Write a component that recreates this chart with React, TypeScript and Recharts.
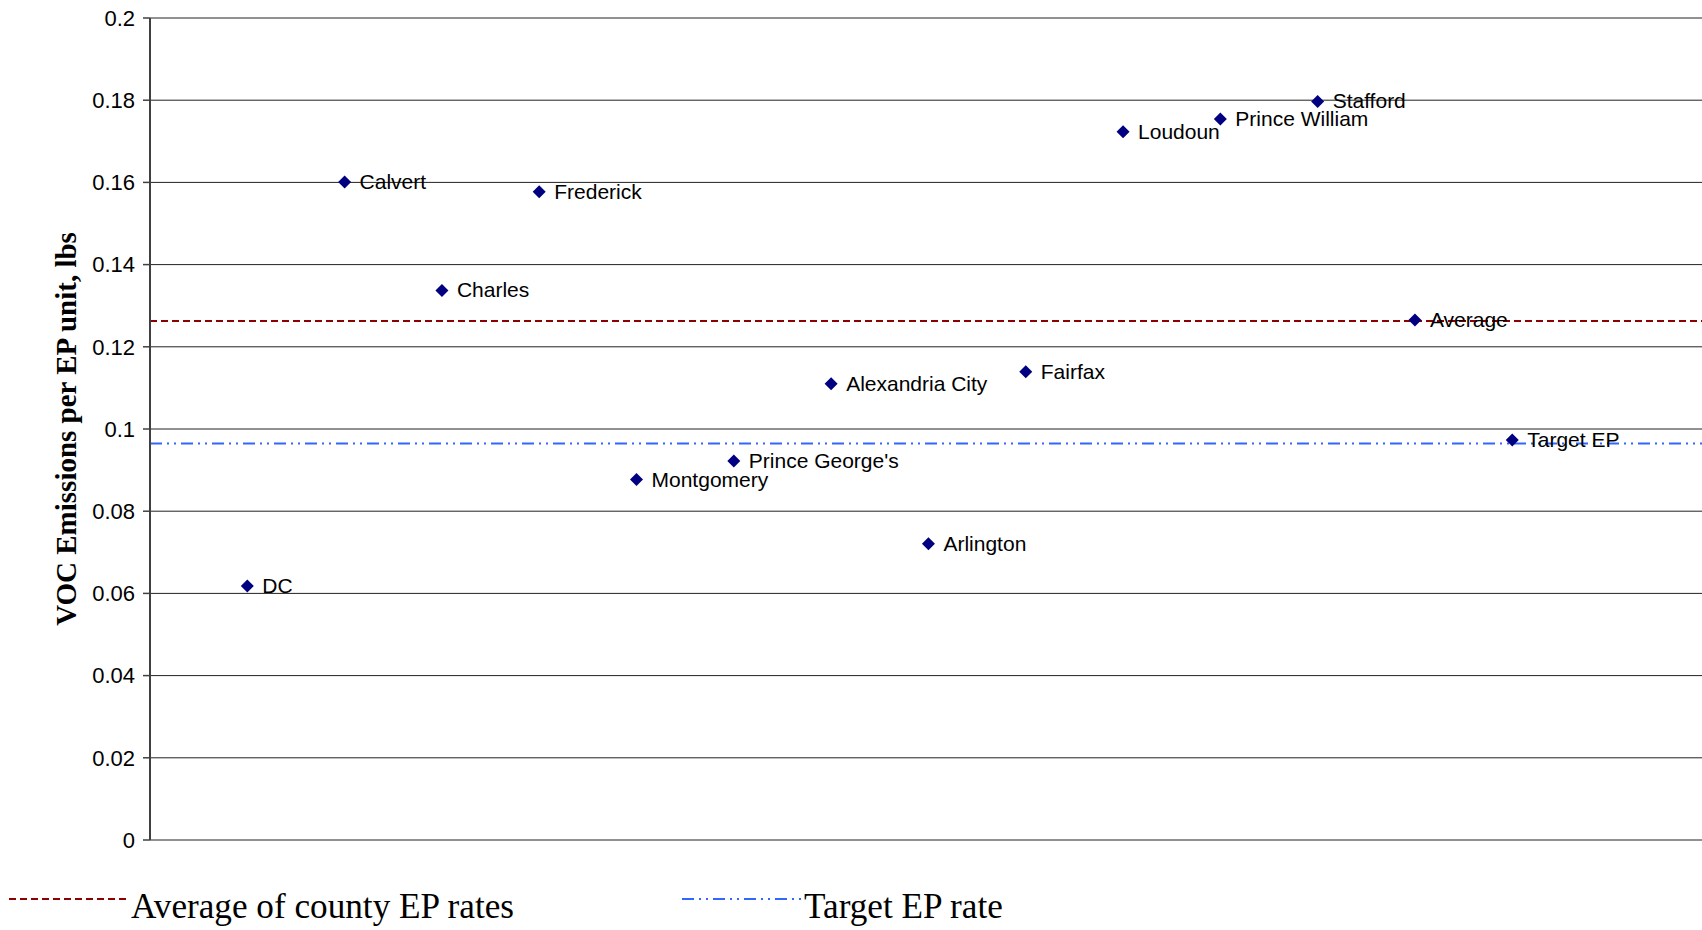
import React from "react";
import {
  ScatterChart,
  Scatter,
  XAxis,
  YAxis,
  CartesianGrid,
  ReferenceLine,
} from "recharts";

// Jurisdictions plotted left to right, with their VOC emissions per EP unit (lbs)
const places = [
  "DC",
  "Calvert",
  "Charles",
  "Frederick",
  "Montgomery",
  "Prince George's",
  "Alexandria City",
  "Arlington",
  "Fairfax",
  "Loudoun",
  "Prince William",
  "Stafford",
  "Average",
  "Target EP",
];
const vocPerUnit = [
  0.0618, 0.1601, 0.1337, 0.1577, 0.0877, 0.0922, 0.111, 0.0721, 0.1139,
  0.1723, 0.1754, 0.1797, 0.1265, 0.0973,
];

// Reference rates drawn across the plot
const averageRate = 0.1263;
const targetRate = 0.0965;

const yTicks = [0, 0.02, 0.04, 0.06, 0.08, 0.1, 0.12, 0.14, 0.16, 0.18, 0.2];
const xDomain = [0, 15.95];

const legendItems = [
  { label: "Average of county EP rates", color: "#8b0000", dash: "7 4", x: 9 },
  { label: "Target EP rate", color: "#3366ff", dash: "12 5 2 5 2 5", x: 682 },
];

const points = places.map((name, i) => ({ x: i + 1, y: vocPerUnit[i], name }));

const W = 1702;
const H = 930;

const sansFont = "'Liberation Sans', Arial, sans-serif";
const serifFont = "'Liberation Serif', 'Times New Roman', serif";

function DiamondWithName(props: any) {
  const { cx, cy, payload } = props;
  const r = 6.5;
  return (
    <g>
      <path
        d={`M${cx},${cy - r} L${cx + r},${cy} L${cx},${cy + r} L${cx - r},${cy} Z`}
        fill="#000080"
      />
      <text
        x={cx + 15}
        y={cy + 7}
        fontFamily={sansFont}
        fontSize={21}
        fill="#000"
      >
        {payload.name}
      </text>
    </g>
  );
}

export default function App() {
  return (
    <div
      style={{
        position: "absolute",
        left: 0,
        top: 0,
        width: W,
        height: H,
        background: "#fff",
      }}
    >
      <ScatterChart
        width={W}
        height={H}
        margin={{ top: 18, right: 0, bottom: 90, left: 0 }}
      >
        <CartesianGrid
          horizontal
          vertical={false}
          stroke="#222"
          strokeWidth={1}
        />
        <XAxis type="number" dataKey="x" domain={xDomain} hide />
        <YAxis
          type="number"
          dataKey="y"
          domain={[0, 0.2]}
          ticks={yTicks}
          width={150}
          interval={0}
          tickSize={7}
          tickMargin={8}
          axisLine={{ stroke: "#404040", strokeWidth: 2 }}
          tickLine={{ stroke: "#404040", strokeWidth: 1.5 }}
          tick={{ fill: "#000", fontSize: 22, fontFamily: sansFont }}
          label={{
            value: "VOC Emissions per EP unit, lbs",
            angle: -90,
            position: "insideLeft",
            offset: 0,
            dx: 66,
            style: {
              fontFamily: serifFont,
              fontWeight: "bold",
              fontSize: 29,
              fill: "#000",
              textAnchor: "middle",
            },
          }}
        />
        <ReferenceLine
          y={averageRate}
          stroke="#8b0000"
          strokeWidth={2}
          strokeDasharray="7 4"
        />
        <ReferenceLine
          y={targetRate}
          stroke="#3366ff"
          strokeWidth={2}
          strokeDasharray="12 5 2 5 2 5"
        />
        <Scatter
          data={points}
          shape={<DiamondWithName />}
          isAnimationActive={false}
        />
      </ScatterChart>
      <svg
        width={W}
        height={60}
        style={{ position: "absolute", left: 0, top: 870 }}
      >
        {legendItems.map((item) => (
          <g key={item.label}>
            <line
              x1={item.x}
              x2={item.x + 121}
              y1={29}
              y2={29}
              stroke={item.color}
              strokeWidth={2}
              strokeDasharray={item.dash}
            />
            <text
              x={item.x + 122}
              y={48}
              fontFamily={serifFont}
              fontSize={35.2}
              fill="#000"
            >
              {item.label}
            </text>
          </g>
        ))}
      </svg>
    </div>
  );
}
